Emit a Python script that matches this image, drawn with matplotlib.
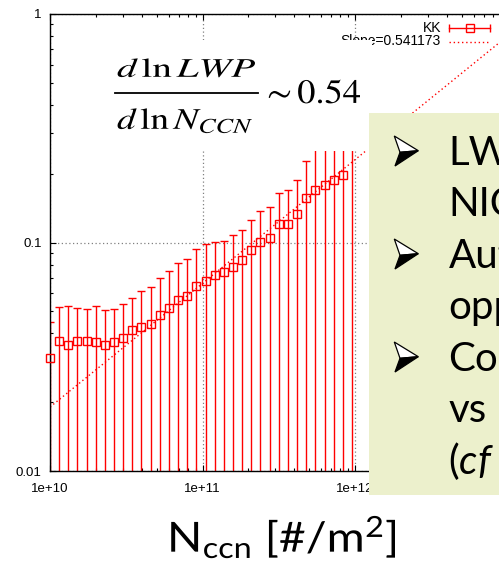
import matplotlib.pyplot as plt
import numpy as np
from matplotlib.patches import Rectangle, Polygon, PathPatch
from matplotlib.lines import Line2D
from matplotlib.textpath import TextPath
from matplotlib.font_manager import FontProperties
from matplotlib.transforms import Affine2D

plt.rcParams['mathtext.rm'] = 'Lato'
plt.rcParams['mathtext.it'] = 'Lato:italic'

# Data
n_ccn = np.array([1.000, 1.148, 1.318, 1.514, 1.738, 1.995, 2.291, 2.630, 3.020, 3.467,
                  3.981, 4.571, 5.248, 6.026, 6.918, 7.943, 9.120, 10.47, 12.02, 13.80,
                  15.85, 18.20, 20.89, 23.99, 27.54, 31.62, 36.31, 41.69, 47.86, 54.95,
                  63.10, 72.44, 83.18, 95.50]) * 1e10
lwp_mean = np.array([0.0313, 0.0372, 0.0357, 0.0372, 0.0372, 0.0368, 0.0356, 0.0366, 0.0383, 0.0413,
                     0.0428, 0.0440, 0.0482, 0.0519, 0.0559, 0.0585, 0.0645, 0.0679, 0.0718, 0.0741,
                     0.0784, 0.0836, 0.0924, 0.1008, 0.105, 0.121, 0.121, 0.133, 0.157, 0.170,
                     0.179, 0.188, 0.197, 0.27])
lwp_upper = np.array([0.045, 0.0524, 0.0529, 0.0517, 0.0510, 0.0525, 0.0505, 0.0511, 0.0540, 0.0574,
                      0.0611, 0.0636, 0.0700, 0.0753, 0.0811, 0.0850, 0.0940, 0.0985, 0.101, 0.102,
                      0.108, 0.113, 0.126, 0.138, 0.143, 0.165, 0.169, 0.188, 0.228, 0.27,
                      0.29, 0.31, 0.33, 0.45])
slope = 0.541173
lwp_at_1e10 = 10 ** -1.72

xticks = [1e10, 1e11, 1e12, 1e13]
xticklabels = ['1e+10', '1e+11', '1e+12', '1e+13']
yticks = [0.01, 0.1, 1]
yticklabels = ['0.01', '0.1', '1']

bullet_lines = ['LW', 'NIC', 'Aut', 'opp', 'Co', 'vs', r'($\it{cf}$']
bullet_marks = [True, False, True, False, True, False, False]

W, H = 499, 567


def fx(px):
    return px / W


def fy(py):
    return 1 - py / H


def fitted_text(s, x0, x1, baseline, em, prop, zorder=2):
    # text drawn as a path, stretched to span x0..x1 (pixels, from top-left)
    tp = TextPath((0, 0), s, size=em, prop=prop)
    xmin = tp.vertices[:, 0].min()
    xmax = tp.vertices[:, 0].max()
    sx = (x1 - x0) / (xmax - xmin)
    tr = Affine2D().translate(-xmin, 0).scale(sx, 1).translate(x0, H - baseline)
    fig.add_artist(PathPatch(tp, transform=tr, facecolor='black', edgecolor='none',
                             lw=0, zorder=zorder))


def bullet(base):
    # 3D arrowhead bullet, light upper face and black lower face
    pts_up = [(394.3, base - 29), (418.3, base - 14.3), (400, base - 12.7)]
    pts_lo = [(400, base - 12.7), (418.3, base - 14.3), (395, base + 1)]
    up = [(x, H - y) for x, y in pts_up]
    lo = [(x, H - y) for x, y in pts_lo]
    fig.add_artist(Polygon(up, closed=True, transform=Affine2D(), facecolor='white',
                           edgecolor='black', lw=0.9, zorder=2))
    fig.add_artist(Polygon(lo, closed=True, transform=Affine2D(), facecolor='black',
                           edgecolor='black', lw=0.9, zorder=2))


fig = plt.figure(figsize=(W / 100, H / 100), dpi=100)
ax = fig.add_axes([fx(50), fy(471), (507.5 - 50) / W, (471 - 14) / H])
ax.set_xscale('log')
ax.set_yscale('log')
ax.set_xlim(1e10, 1e13)
ax.set_ylim(0.01, 1)

# error bars go down to zero (clipped at the bottom of the plot)
ax.errorbar(n_ccn, lwp_mean, yerr=[lwp_mean, lwp_upper - lwp_mean], fmt='none',
            ecolor='red', elinewidth=1, capsize=3, capthick=1, zorder=2)
ax.plot(n_ccn, lwp_mean, 's', mfc='none', mec='red', ms=5.5, mew=1, clip_on=False, zorder=3)

xfit = np.array(ax.get_xlim())
ax.plot(xfit, lwp_at_1e10 * (xfit / 1e10) ** slope, color='red', ls=(0, (1, 2)), lw=1)

ax.grid(True, which='major', color='gray', ls=(0, (1, 2)), lw=0.9)
ax.set_xticks(xticks)
ax.set_xticklabels(xticklabels)
ax.set_yticks(yticks)
ax.set_yticklabels(yticklabels)
ax.tick_params(which='both', direction='in', top=True, right=True, labelsize=9.5)
ax.tick_params(which='major', length=4.5, width=0.8)
ax.tick_params(which='minor', length=2.2, width=0.8)
ax.tick_params(axis='x', pad=9)
ax.tick_params(axis='y', pad=6)
for lab in ax.get_xticklabels() + ax.get_yticklabels():
    lab.set_family('Liberation Sans')
for sp in ax.spines.values():
    sp.set_linewidth(1)

# key (top right)
fig.text(fx(441), fy(28), 'KK', ha='right', va='center', fontsize=10,
         family='Liberation Sans', zorder=0.5)
fig.text(fx(441), fy(41.5), 'Slope=0.541173', ha='right', va='center', fontsize=10,
         family='Liberation Sans', zorder=0.5)
fig.add_artist(Line2D([fx(449), fx(490)], [fy(28), fy(28)], color='red', lw=1,
                      marker='|', ms=6, mew=1, zorder=0.5))
fig.add_artist(Line2D([fx(469.5)], [fy(28)], color='red', marker='s', mfc='none',
                      ms=5.5, mew=1, zorder=0.6))
fig.add_artist(Line2D([fx(449), fx(490)], [fy(42), fy(42)], color='red', lw=1,
                      ls=(0, (1, 2)), zorder=0.5))

# pasted formula (white background)
fig.add_artist(Rectangle((fx(105), fy(151)), fx(372) - fx(105), fy(40.5) - fy(151),
                         transform=fig.transFigure, facecolor='white', edgecolor='none', zorder=1))
stix = FontProperties(family='STIXGeneral', math_fontfamily='stix')
fitted_text(r'$d\,\ln LWP$', 117, 255, 77, 27, stix)
fitted_text(r'$d\,\ln N_{CCN}$', 117, 252, 129, 30, stix)
fig.add_artist(Line2D([fx(115), fx(258)], [fy(93), fy(93)], color='black', lw=1.3, zorder=2))
fitted_text(r'$\sim 0.54$', 267, 360, 103, 34, stix)

# slide text box overlapping the plot
fig.add_artist(Rectangle((fx(369), fy(495)), fx(520) - fx(369), fy(113) - fy(495),
                         transform=fig.transFigure, facecolor='#ecf0cc', edgecolor='none', zorder=1))
for i, (txt, mark) in enumerate(zip(bullet_lines, bullet_marks)):
    base = 165 + i * 51.5
    if mark:
        bullet(base)
    fig.text(fx(448.5), fy(base), txt, ha='left', va='baseline', fontsize=29,
             family='Lato', math_fontfamily='custom', zorder=2)

# x label
lato = FontProperties(family='Lato', math_fontfamily='custom')
fitted_text(r'N$_{\mathrm{ccn}}$ [#/m$^{2}$]', 167, 395, 552, 41.5, lato, zorder=2)

fig.savefig('out.png', dpi=100)
